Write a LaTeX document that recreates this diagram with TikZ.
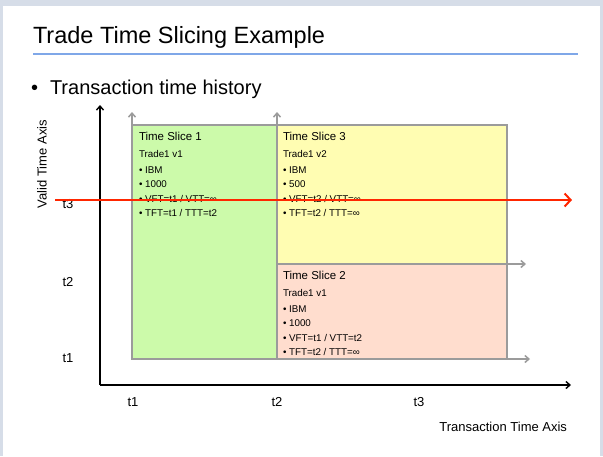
\documentclass[tikz,border=0pt]{standalone}
\usepackage{fontspec}
\setmainfont{Liberation Sans}
\usetikzlibrary{positioning,arrows.meta,calc}
\definecolor{framegray}{RGB}{214,221,232}
\definecolor{rulecol}{RGB}{127,167,232}
\definecolor{slicegreen}{RGB}{204,250,170}
\definecolor{sliceyellow}{RGB}{255,253,178}
\definecolor{slicepink}{RGB}{255,221,206}
\definecolor{edgegray}{RGB}{155,155,155}
\definecolor{nowred}{RGB}{255,38,0}

\begin{document}
\begin{tikzpicture}[x=1pt, y=-1pt,
  every node/.style={inner sep=0pt, outer sep=0pt},
  slice/.style={draw=edgegray, line width=1.5pt, anchor=north west, inner sep=0pt},
  slicetitle/.style={anchor=west, font=\fontsize{11.5}{13}\selectfont},
  slicetext/.style={anchor=north west, align=left, font=\fontsize{9.8}{14.3}\selectfont},
  axislabel/.style={font=\fontsize{13}{15}\selectfont},
  axis/.style={line width=1.4pt, -{Straight Barb[length=4pt,width=7pt]}},
  edgearrow/.style={draw=edgegray, line width=1.5pt, -{Straight Barb[length=4pt,width=7pt]}}
]
  \useasboundingbox (0,0) rectangle (603,456);
  \fill[framegray] (0,0) rectangle (603,456);
  \fill[white] (3,6) rectangle (600,456);

  \node[anchor=west, font=\fontsize{23.5}{27}\selectfont] (title) at (33,37) {Trade Time Slicing Example};
  \draw[rulecol, line width=2pt] (33,54) -- (578,54);
  \node[anchor=west, font=\fontsize{20}{23}\selectfont] (bullet) at (31,89) {•\hspace{12pt}Transaction time history};

  \node[slice, fill=slicegreen, minimum width=145pt, minimum height=234pt] (slice1) at (132,125) {};
  \node[slice, fill=sliceyellow, minimum width=230pt, minimum height=139pt] (slice3) at (277,125) {};
  \node[slice, fill=slicepink, minimum width=230pt, minimum height=95pt] (slice2) at (277,264) {};

  \coordinate (tx1top) at ($(slice1.north west)+(0,-13)$);
  \coordinate (tx2top) at ($(slice3.north west)+(0,-13)$);
  \coordinate (vt2end) at ($(slice2.north east)+(19,0)$);
  \coordinate (vt1end) at ($(slice2.south east)+(23,0)$);
  \draw[edgearrow] (slice1.north west) -- (tx1top);
  \draw[edgearrow] (slice3.north west) -- (tx2top);
  \draw[edgearrow] (slice2.north east) -- (vt2end);
  \draw[edgearrow] (slice2.south east) -- (vt1end);

  \node[slicetitle] (s1title) at (139,136) {Time Slice 1};
  \node[slicetext] (s1text) at (139,150.5) {Trade1 v1\\[1.6pt]
    • IBM\\
    • 1000\\
    • VFT=t1 / VTT=∞\\
    • TFT=t1 / TTT=t2};

  \node[slicetitle] (s3title) at (283,136) {Time Slice 3};
  \node[slicetext] (s3text) at (283,150.5) {Trade1 v2\\[1.6pt]
    • IBM\\
    • 500\\
    • VFT=t2 / VTT=∞\\
    • TFT=t2 / TTT=∞};

  \node[slicetitle] (s2title) at (283,275) {Time Slice 2};
  \node[slicetext] (s2text) at (283,289.5) {Trade1 v1\\[1.6pt]
    • IBM\\
    • 1000\\
    • VFT=t1 / VTT=t2\\
    • TFT=t2 / TTT=∞};

  \coordinate (origin) at (100,385);
  \coordinate (validtop) at (100,105);
  \coordinate (transend) at (571,385);
  \draw[axis] (origin) -- (validtop);
  \draw[axis] (origin) -- (transend);

  \node[axislabel, rotate=90] (validlabel) at (42,164) {Valid Time Axis};
  \node[axislabel, anchor=east] (translabel) at (567,427) {Transaction Time Axis};
  \node[axislabel] (vt3) at (68,204) {t3};
  \node[axislabel] (vt2) at (68,282) {t2};
  \node[axislabel] (vt1) at (68,358) {t1};
  \node[axislabel] (tt1) at (133,402) {t1};
  \node[axislabel] (tt2) at (277,402) {t2};
  \node[axislabel] (tt3) at (419,402) {t3};

  \coordinate (nowstart) at (55,200);
  \coordinate (nowend) at (572,200);
  \draw[nowred, line width=2pt, -{Straight Barb[length=6pt,width=13pt]}] (nowstart) -- (nowend);
\end{tikzpicture}
\end{document}
